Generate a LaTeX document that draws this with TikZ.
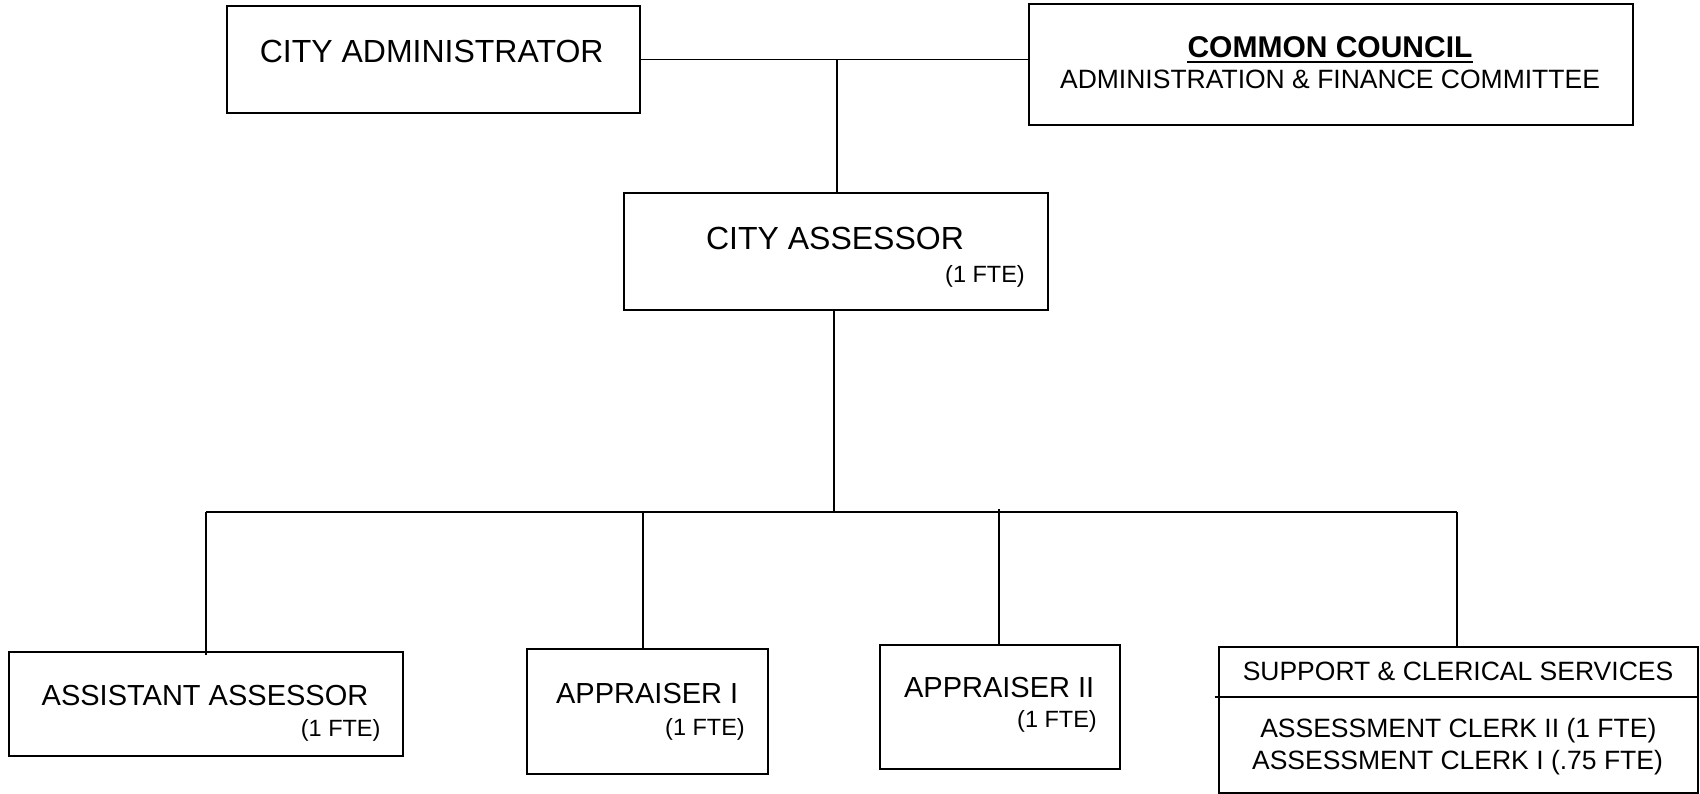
\documentclass[tikz,border=0pt]{standalone}
\usepackage{fontspec}
\setmainfont{Liberation Sans}
\begin{document}
\begin{tikzpicture}[x=1pt,y=-1pt,
  box/.style={draw, line width=2pt, inner sep=0pt, anchor=north west},
  conn/.style={line width=1.6pt},
  lbl/.style={inner sep=0pt, anchor=base},
  fte/.style={inner sep=0pt, anchor=base east, font=\fontsize{23.5}{28}\selectfont},
  big/.style={font=\fontsize{32}{38}\selectfont},
  mid/.style={font=\fontsize{29}{34}\selectfont},
  sml/.style={font=\fontsize{26.5}{31}\selectfont}]
\useasboundingbox[fill=white] (0,0) rectangle (1700,793);

% boxes
\node[box, minimum width=413.5pt, minimum height=107pt] (CA) at (225.5,5) {};
\node[box, minimum width=604pt, minimum height=121pt] (CC) at (1028,3) {};
\node[box, minimum width=424pt, minimum height=117pt] (CAS) at (623,192) {};
\node[box, minimum width=394pt, minimum height=104pt] (AA) at (8,651) {};
\node[box, minimum width=241pt, minimum height=125pt] (AP1) at (526,648) {};
\node[box, minimum width=240pt, minimum height=124pt] (AP2) at (879,644) {};
\node[box, minimum width=479pt, minimum height=145.5pt] (SUP) at (1217.5,646) {};

% texts
\node[lbl, big] (tCA) at (431.7,62) {CITY ADMINISTRATOR};
\node[lbl, font=\bfseries\fontsize{30}{36}\selectfont] (tCC) at (1330,57) {COMMON COUNCIL};
\draw[line width=2.6pt] ([yshift=-5pt]tCC.base west) -- ([yshift=-5pt]tCC.base east);
\node[lbl, sml] (tAF) at (1330,88.3) {ADMINISTRATION \& FINANCE COMMITTEE};
\node[lbl, big] (tCAS) at (835,249) {CITY ASSESSOR};
\node[fte] (fCAS) at (1025,282) {(1 FTE)};
\node[lbl, mid] (tAA) at (205,705.5) {ASSISTANT ASSESSOR};
\node[fte] (fAA) at (380.7,736.5) {(1 FTE)};
\node[lbl, mid] (tAP1) at (647.2,703) {APPRAISER I};
\node[fte] (fAP1) at (745,735) {(1 FTE)};
\node[lbl, mid] (tAP2) at (999.2,697.5) {APPRAISER II};
\node[fte] (fAP2) at (1097,727.5) {(1 FTE)};
\node[lbl, sml] (tSUP) at (1458,680.7) {SUPPORT \& CLERICAL SERVICES};
\node[lbl, sml] (tCL2) at (1458.3,737.3) {ASSESSMENT CLERK II (1 FTE)};
\node[lbl, sml] (tCL1) at (1457.5,769.3) {ASSESSMENT CLERK I (.75 FTE)};

% divider in support box
\coordinate (divy) at (1457,696.7);
\draw[line width=2pt] ([xshift=-3pt]SUP.west |- divy) -- (SUP.east |- divy);

% connectors
\coordinate (j1) at (837,59.3);
\coordinate (bus) at (834,512);
\coordinate (busL) at (206,512);
\coordinate (busR) at (1457,512);
\coordinate (b1) at (643,512);
\coordinate (b2) at (999,509);
\draw[conn] (CA.east |- j1) -- (CC.west |- j1);
\draw[conn] (j1) -- (j1 |- CAS.north);
\draw[conn] (bus |- CAS.south) -- (bus);
\draw[conn] (busL) -- (busR);
\draw[conn] (busL) -- ([yshift=-4pt]busL |- AA.north);
\draw[conn] (b1) -- (b1 |- AP1.north);
\draw[conn] (b2) -- (b2 |- AP2.north);
\draw[conn] (busR) -- (busR |- SUP.north);
\end{tikzpicture}
\end{document}
